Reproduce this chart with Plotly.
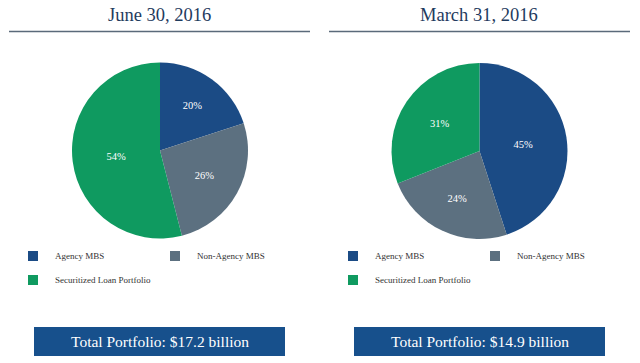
import plotly.graph_objects as go

categories = ["Agency MBS", "Non-Agency MBS", "Securitized Loan Portfolio"]
june_values = [20, 26, 54]
march_values = [45, 24, 31]
titles = ["June 30, 2016", "March 31, 2016"]
totals = ["Total Portfolio: $17.2 billion", "Total Portfolio: $14.9 billion"]
colors = ["#1b4b85", "#5c7080", "#0f9a60"]

W, H = 640, 363
SERIF = "Liberation Serif"

def px(x):
    return x / W

def py(y):
    return 1 - y / H

fig = go.Figure()

pie_boxes = [(72, 62, 248, 239), (391, 63, 568, 239)]
for vals, (x0, y0, x1, y1) in zip([june_values, march_values], pie_boxes):
    fig.add_trace(go.Pie(
        labels=categories, values=vals, sort=False, direction="clockwise",
        rotation=0, marker=dict(colors=colors, line=dict(width=0)),
        textinfo="percent", textposition="inside",
        insidetextorientation="horizontal",
        textfont=dict(family=SERIF, size=10.5, color="white"),
        domain=dict(x=[px(x0), px(x1)], y=[py(y1), py(y0)]),
        showlegend=False, hoverinfo="label+percent",
    ))

shapes = []
annotations = []
offsets = [0, 320]
for i, off in enumerate(offsets):
    annotations.append(dict(text=titles[i], x=px(159 + off), y=py(15), xref="paper", yref="paper",
                            showarrow=False, font=dict(family=SERIF, size=18.5, color="#1f3b5e"),
                            xanchor="center", yanchor="middle"))
    shapes.append(dict(type="line", xref="paper", yref="paper", x0=px(9 + off), x1=px(310 + off),
                       y0=py(31.5), y1=py(31.5), line=dict(color="#5a6a7a", width=1.5)))
    leg_pos = [(28, 256), (170, 256), (28, 280)]
    for c, (lx, ly) in enumerate(leg_pos):
        shapes.append(dict(type="rect", xref="paper", yref="paper",
                           x0=px(lx + off), x1=px(lx + off + 10), y0=py(ly + 5), y1=py(ly - 5),
                           fillcolor=colors[c], line=dict(width=0)))
        annotations.append(dict(text=categories[c], x=px(lx + off + 25), y=py(ly), xref="paper", yref="paper",
                                showarrow=False, font=dict(family=SERIF, size=9, color="#333333"),
                                xanchor="left", yanchor="middle"))
    shapes.append(dict(type="rect", xref="paper", yref="paper",
                       x0=px(34 + off), x1=px(285 + off), y0=py(356), y1=py(327),
                       fillcolor="#17508c", line=dict(width=0)))
    annotations.append(dict(text=totals[i], x=px(159.5 + off), y=py(341.5), xref="paper", yref="paper",
                            showarrow=False, font=dict(family=SERIF, size=15.5, color="white"),
                            xanchor="center", yanchor="middle"))

fig.update_layout(
    width=W, height=H, margin=dict(l=0, r=0, t=0, b=0),
    paper_bgcolor="white", plot_bgcolor="white",
    shapes=shapes, annotations=annotations,
)

fig.write_html("out.html", config={"displayModeBar": False},
               post_script="document.body.style.margin='0';")
